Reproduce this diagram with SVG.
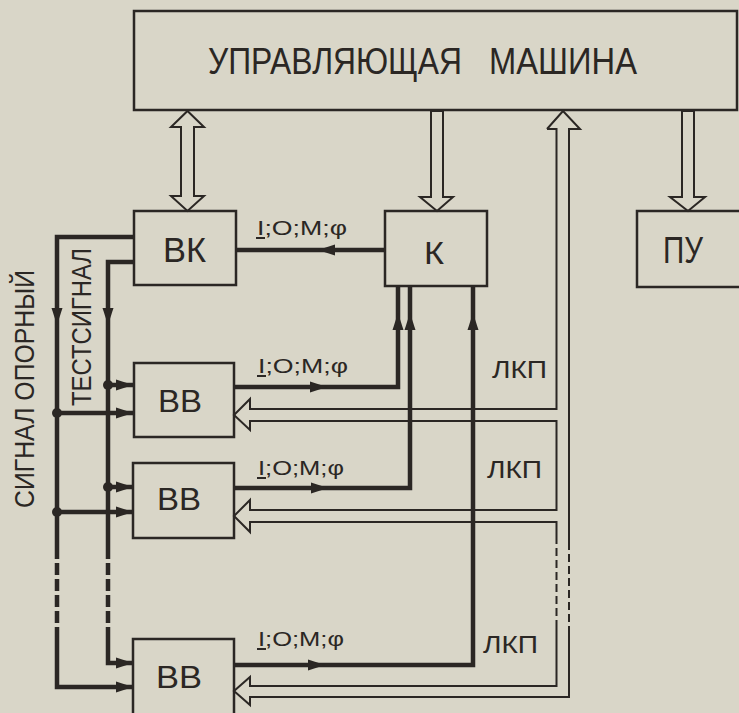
<svg xmlns="http://www.w3.org/2000/svg" width="739" height="713" viewBox="0 0 739 713">
<defs>
<style>
.bg{fill:#d9d6c8}
.box{fill:none;stroke:#2b2724;stroke-width:2.5}
.thk{fill:none;stroke:#2b2724;stroke-width:4.5}
.k4{fill:none;stroke:#2b2724;stroke-width:4}
.thin{fill:none;stroke:#2b2724;stroke-width:2;stroke-linejoin:miter}
.hol{fill:#d9d6c8;stroke:#2b2724;stroke-width:2;stroke-linejoin:miter}
.ah{fill:#2b2724}
.dot{fill:#2b2724}
.t{font-family:"Liberation Sans",Arial,sans-serif;fill:#2b2724}
.dash{stroke-dasharray:12 4}
.dash2{stroke-dasharray:8 4}
</style>
<path id="ah" d="M0,0 L-17,-5.5 L-17,5.5 Z"/>
</defs>
<rect class="bg" x="0" y="0" width="739" height="713"/>

<g id="connectors">
  <!-- hollow arrows from/to control machine -->
  <polygon class="hol" points="187.5,111 204,127 194,127 194,196 204,196 187.5,211 171,196 181,196 181,127 171,127"/>
  <polygon class="hol" points="431,111 443,111 443,197 453,197 437,211 420,197 431,197"/>
  <polygon class="hol" points="682,111 694,111 694,197 705,197 688,211 670,197 682,197"/>
  <!-- ЛКП chain hollow arrow -->
  <path class="thin" d="M547,129 L563,111 L580,129 L569,129 L569,542"/>
  <path class="thin dash2" d="M569,542 L569,628"/>
  <path class="thin" d="M569,628 L569,697 L250,697 L250,705 L234,691 L250,677 L250,686 L556.5,686 L556.5,628"/>
  <path class="thin dash2" d="M556.5,628 L556.5,542"/>
  <path class="thin" d="M556.5,542 L556.5,522 L250,522 L250,532 L234,516 L250,500 L250,510 L556.5,510 L556.5,421 L250,421 L250,430 L234,415 L250,399 L250,409 L556.5,409 L556.5,129 L547,129"/>

  <!-- K to BK -->
  <line class="thk" x1="385" y1="250" x2="236" y2="250"/>
  <use href="#ah" class="ah" transform="translate(318,250) rotate(180)"/>

  <!-- BB outputs to K -->
  <path class="thk" d="M234,387 L398,387 L398,286"/>
  <use href="#ah" class="ah" transform="translate(327,387)"/>
  <path class="thk" d="M234,488 L410,488 L410,286"/>
  <use href="#ah" class="ah" transform="translate(328,488)"/>
  <path class="thk" d="M234,665 L473,665 L473,286"/>
  <use href="#ah" class="ah" transform="translate(325,665)"/>
  <use href="#ah" class="ah" transform="translate(398,313) rotate(-90)"/>
  <use href="#ah" class="ah" transform="translate(410,313) rotate(-90)"/>
  <use href="#ah" class="ah" transform="translate(473,313) rotate(-90)"/>

  <!-- reference signal -->
  <path class="thk" d="M134,237 L57,237 L57,547"/>
  <path class="thk dash" d="M57,547 L57,630"/>
  <path class="thk" d="M57,630 L57,687 L133,687"/>
  <line class="thk" x1="57" y1="413" x2="133" y2="413"/>
  <line class="thk" x1="57" y1="512" x2="133" y2="512"/>
  <use href="#ah" class="ah" transform="translate(57,325) rotate(90)"/>
  <use href="#ah" class="ah" transform="translate(133,413)"/>
  <use href="#ah" class="ah" transform="translate(133,512)"/>
  <use href="#ah" class="ah" transform="translate(133,687)"/>
  <circle class="dot" cx="57" cy="413" r="5"/>
  <circle class="dot" cx="57" cy="512" r="5"/>

  <!-- test signal -->
  <path class="thk" d="M134,262 L108,262 L108,547"/>
  <path class="thk dash" d="M108,547 L108,630"/>
  <path class="thk" d="M108,630 L108,663 L133,663"/>
  <line class="thk" x1="108" y1="385" x2="133" y2="385"/>
  <line class="thk" x1="108" y1="487" x2="133" y2="487"/>
  <use href="#ah" class="ah" transform="translate(108,325) rotate(90)"/>
  <use href="#ah" class="ah" transform="translate(133,385)"/>
  <use href="#ah" class="ah" transform="translate(133,487)"/>
  <use href="#ah" class="ah" transform="translate(133,663)"/>
  <circle class="dot" cx="108" cy="385" r="5"/>
  <circle class="dot" cx="108" cy="487" r="5"/>
</g>

<g id="machine">
  <rect class="box" x="134" y="11" width="603" height="99"/>
  <text class="t" x="208" y="74" font-size="37" textLength="254" lengthAdjust="spacingAndGlyphs">УПРАВЛЯЮЩАЯ</text>
  <text class="t" x="489" y="74" font-size="37" textLength="148" lengthAdjust="spacingAndGlyphs">МАШИНА</text>
</g>

<g id="bk">
  <rect class="box" x="134" y="211" width="102" height="74"/>
  <text class="t" x="163" y="262" font-size="35" textLength="43" lengthAdjust="spacingAndGlyphs">ВК</text>
</g>

<g id="k">
  <rect class="box" x="385" y="211" width="102" height="75"/>
  <text class="t" x="424" y="264" font-size="31" textLength="20" lengthAdjust="spacingAndGlyphs">К</text>
</g>

<g id="pu">
  <rect class="box" x="637" y="211" width="104" height="76"/>
  <text class="t" x="663" y="263" font-size="36" textLength="40" lengthAdjust="spacingAndGlyphs">ПУ</text>
</g>

<g id="bb1">
  <rect class="box" x="134" y="363" width="100" height="74"/>
  <text class="t" x="158" y="412" font-size="31" textLength="44" lengthAdjust="spacingAndGlyphs">ВВ</text>
</g>
<g id="bb2">
  <rect class="box" x="133" y="463" width="101" height="75"/>
  <text class="t" x="157" y="510" font-size="31" textLength="44" lengthAdjust="spacingAndGlyphs">ВВ</text>
</g>
<g id="bb3">
  <rect class="box" x="133" y="639" width="101" height="80"/>
  <text class="t" x="156" y="688" font-size="31" textLength="46" lengthAdjust="spacingAndGlyphs">ВВ</text>
</g>

<g id="labels">
  <text class="t" x="257" y="235" font-size="21" textLength="90" lengthAdjust="spacingAndGlyphs">I;O;M;φ</text>
  <line class="thin" x1="256" y1="238" x2="265" y2="238"/>
  <text class="t" x="258" y="373" font-size="21" textLength="90" lengthAdjust="spacingAndGlyphs">I;O;M;φ</text>
  <line class="thin" x1="257" y1="376" x2="266" y2="376"/>
  <text class="t" x="258" y="475" font-size="21" textLength="86" lengthAdjust="spacingAndGlyphs">I;O;M;φ</text>
  <line class="thin" x1="257" y1="478" x2="266" y2="478"/>
  <text class="t" x="258" y="646" font-size="21" textLength="86" lengthAdjust="spacingAndGlyphs">I;O;M;φ</text>
  <line class="thin" x1="257" y1="649" x2="266" y2="649"/>

  <text class="t" x="492" y="378" font-size="23" textLength="55" lengthAdjust="spacingAndGlyphs">ЛКП</text>
  <text class="t" x="487" y="478" font-size="23" textLength="55" lengthAdjust="spacingAndGlyphs">ЛКП</text>
  <text class="t" x="483" y="653" font-size="23" textLength="55" lengthAdjust="spacingAndGlyphs">ЛКП</text>

  <text class="t" font-size="27" transform="translate(34,508) rotate(-90)" textLength="238" lengthAdjust="spacingAndGlyphs">СИГНАЛ ОПОРНЫЙ</text>
  <text class="t" font-size="28" transform="translate(91,406) rotate(-90)" textLength="158" lengthAdjust="spacingAndGlyphs">ТЕСТСИГНАЛ</text>
</g>
</svg>
